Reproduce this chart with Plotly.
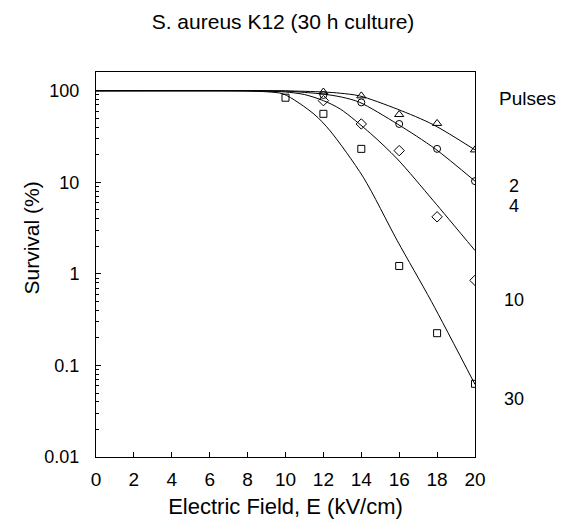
import plotly.graph_objects as go

# Measured survival points (%) vs electric field (kV/cm)
field_2 = [12, 14, 16, 18, 20]
surv_2 = [97, 88, 55, 44, 22.6]

field_4 = [12, 14, 16, 18, 20]
surv_4 = [90, 74.6, 43.4, 23.2, 10.3]

field_10 = [12, 14, 16, 18, 20]
surv_10 = [78, 43.4, 22.2, 4.2, 0.85]

field_30 = [10, 12, 14, 16, 18, 20]
surv_30 = [84, 56, 23.2, 1.22, 0.225, 0.063]

# Fitted curves, sampled along the drawn lines
fit_e_2 = [0, 8, 10, 12, 12.9, 13.9, 15.9, 17.8, 20]
fit_s_2 = [100, 100, 99.7, 97, 94, 88, 63, 42.6, 22.6]

fit_e_4 = [0, 8, 10, 11, 12, 13, 13.9, 15.9, 17.9, 20]
fit_s_4 = [100, 100, 99.3, 96, 92, 85, 75, 43.4, 23.2, 10.3]

fit_e_10 = [0, 8, 9, 10, 11, 12, 12.9, 14.5, 15.9, 17.8, 20]
fit_s_10 = [100, 100, 99, 97, 91, 78, 63, 34, 18, 6.3, 1.8]

fit_e_30 = [0, 7, 8, 9, 9.9, 11.5, 12.35, 14.1, 15.9, 17.7, 20]
fit_s_30 = [100, 100, 99.5, 97.5, 92, 55.7, 36.6, 11.4, 2.3, 0.5, 0.062]

x_ticks = list(range(0, 21, 2))
y_ticks = [0.01, 0.1, 1, 10, 100]
y_tick_text = ["0.01", "0.1", "1", "10", "100"]
y_minor = [m * 10 ** p for p in range(-2, 3) for m in range(2, 10)]

pulse_labels = ["2", "4", "10", "30"]
pulse_label_y = [0.705, 0.652, 0.408, 0.151]

FONT = "Liberation Sans, Arial, sans-serif"

fig = go.Figure()

curves = [(fit_e_2, fit_s_2), (fit_e_4, fit_s_4), (fit_e_10, fit_s_10), (fit_e_30, fit_s_30)]
for ex, sy in curves:
    fig.add_trace(go.Scatter(
        x=ex, y=sy, mode="lines",
        line=dict(color="black", width=1, shape="spline", smoothing=0.8),
        hoverinfo="skip", showlegend=False,
    ))

series = [
    (field_2, surv_2, "triangle-up-open", 8),
    (field_4, surv_4, "circle-open", 7),
    (field_10, surv_10, "diamond-open", 8),
    (field_30, surv_30, "square-open", 7),
]
for ex, sy, sym, sz in series:
    fig.add_trace(go.Scatter(
        x=ex, y=sy, mode="markers",
        marker=dict(symbol=sym, size=sz, color="black", line=dict(width=1, color="black")),
        showlegend=False,
    ))

annotations = [
    # y-axis title, set slightly above the plot's vertical centre
    dict(
        text="Survival (%)", xref="paper", yref="paper", x=-0.169, y=0.57,
        showarrow=False, textangle=-90, xanchor="center", yanchor="middle",
        font=dict(family=FONT, size=21, color="black"),
    ),
    dict(
        text="Pulses", xref="paper", yref="paper", x=1.058, y=0.93,
        showarrow=False, xanchor="left", yanchor="middle",
        font=dict(family=FONT, size=19, color="black"),
    ),
]
for lab, ly in zip(pulse_labels, pulse_label_y):
    annotations.append(dict(
        text=lab, xref="paper", yref="paper", x=1.102, y=ly,
        showarrow=False, xanchor="center", yanchor="middle",
        font=dict(family=FONT, size=18, color="black"),
    ))

fig.update_layout(
    width=566, height=519,
    margin=dict(l=96, r=91, t=72, b=62, autoexpand=False),
    paper_bgcolor="white", plot_bgcolor="white",
    title=dict(
        text="S. aureus K12 (30 h culture)", x=0.5, xanchor="center",
        y=1 - 22 / 519, yanchor="middle",
        font=dict(family=FONT, size=21, color="black"),
    ),
    annotations=annotations,
    font=dict(family=FONT, color="black"),
)

fig.update_xaxes(
    range=[0, 20], tickvals=x_ticks, ticks="inside", ticklen=5, tickcolor="black",
    showline=True, linecolor="black", linewidth=1, mirror=True, showgrid=False, zeroline=False,
    tickfont=dict(family=FONT, size=19, color="black"), ticklabelstandoff=5,
    automargin=False,
    title=dict(text="Electric Field, E (kV/cm)", font=dict(family=FONT, size=22, color="black"), standoff=10),
)
fig.update_yaxes(
    type="log", range=[-2, 2.205], tickvals=y_ticks, ticktext=y_tick_text,
    ticks="inside", ticklen=5, tickcolor="black",
    minor=dict(tickvals=y_minor, ticks="inside", ticklen=3, tickcolor="black"),
    showline=True, linecolor="black", linewidth=1, mirror=True, showgrid=False, zeroline=False,
    tickfont=dict(family=FONT, size=18, color="black"), ticklabelstandoff=12,
    automargin=False,
)

fig.write_html("out.html")
